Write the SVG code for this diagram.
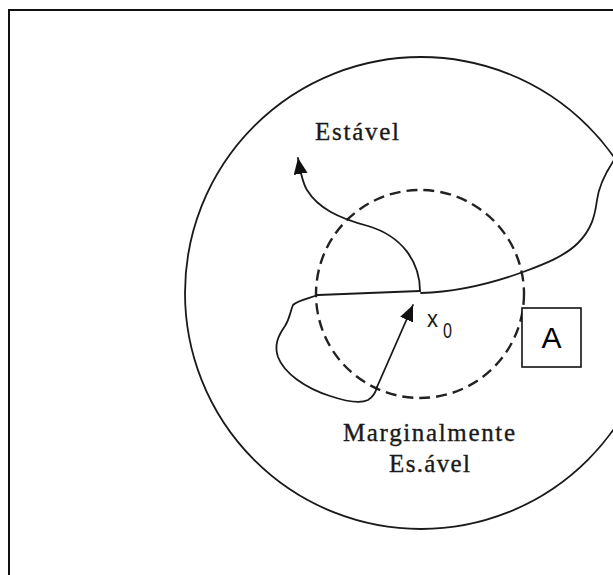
<svg xmlns="http://www.w3.org/2000/svg" width="613" height="575" viewBox="0 0 613 575">
  <style>
    .line { fill: none; stroke: #1a1a1a; stroke-width: 1.8; stroke-linecap: round; stroke-linejoin: round; }
    .dash { fill: none; stroke: #222; stroke-width: 2.4; stroke-dasharray: 11 6; }
    .lbl { font-family: "Liberation Serif", "Times New Roman", serif; font-size: 25px; fill: #1a1a1a; stroke: #1a1a1a; stroke-width: 0.35; }
    .sub { font-family: "Liberation Sans", Arial, sans-serif; fill: #1a1a1a; }
    .box { fill: #fff; stroke: #111; stroke-width: 1.6; }
    .boxtxt { font-family: "Liberation Sans", Arial, sans-serif; font-size: 30px; fill: #000; }
  </style>
  <defs>
    <marker id="ah" viewBox="0 0 16 14" refX="16" refY="7" markerWidth="16" markerHeight="14" markerUnits="userSpaceOnUse" orient="auto">
      <path d="M0,0 L16,7 L0,14 z" fill="#111"/>
    </marker>
  </defs>
  <rect width="613" height="575" fill="#fff"/>
  <g id="frame">
    <rect x="9" y="10" width="640" height="600" fill="none" stroke="#111" stroke-width="2"/>
  </g>
  <g id="outer-region">
    <circle cx="421" cy="293" r="236" class="line"/>
  </g>
  <g id="inner-region">
    <circle cx="420" cy="294" r="104" class="dash"/>
  </g>
  <g id="connectors">
    <path class="line" d="M318,295 L420,291"/>
    <path class="line" d="M420,291 C420,262 402,236 368,226 C338,218 318,208 307,190 C302,182 300,170 298,158" marker-end="url(#ah)"/>
    <path class="line" d="M421,293 C455,292 490,284 523,272 C545,264 565,256 578,243 C592,229 595,215 597,200 C599,185 606,172 614,160"/>
    <path class="line" d="M318,295 C310,298 298,300 293,305 C290,312 290,318 285,326 C278,336 274,345 278,357 C284,373 305,388 330,396 C345,401 360,404 368,400 C373,397 376,391 377,387"/>
    <path class="line" d="M377,387 L413,305" marker-end="url(#ah)"/>
  </g>
  <g id="label-estavel">
    <text class="lbl" x="315" y="140" textLength="84" lengthAdjust="spacing">Estável</text>
  </g>
  <g id="label-x0">
    <text class="sub" x="427" y="327" font-size="24" textLength="11" lengthAdjust="spacingAndGlyphs">x</text>
    <text class="sub" x="443" y="338" font-size="22" textLength="9" lengthAdjust="spacingAndGlyphs">0</text>
  </g>
  <g id="label-marginal">
    <text class="lbl" x="343" y="441" textLength="172" lengthAdjust="spacing">Marginalmente</text>
    <text class="lbl" x="389" y="472" textLength="81" lengthAdjust="spacing">Es.ável</text>
  </g>
  <g id="node-A">
    <rect class="box" x="522" y="308" width="59" height="59"/>
    <text class="boxtxt" x="551.5" y="348" text-anchor="middle">A</text>
  </g>
</svg>
